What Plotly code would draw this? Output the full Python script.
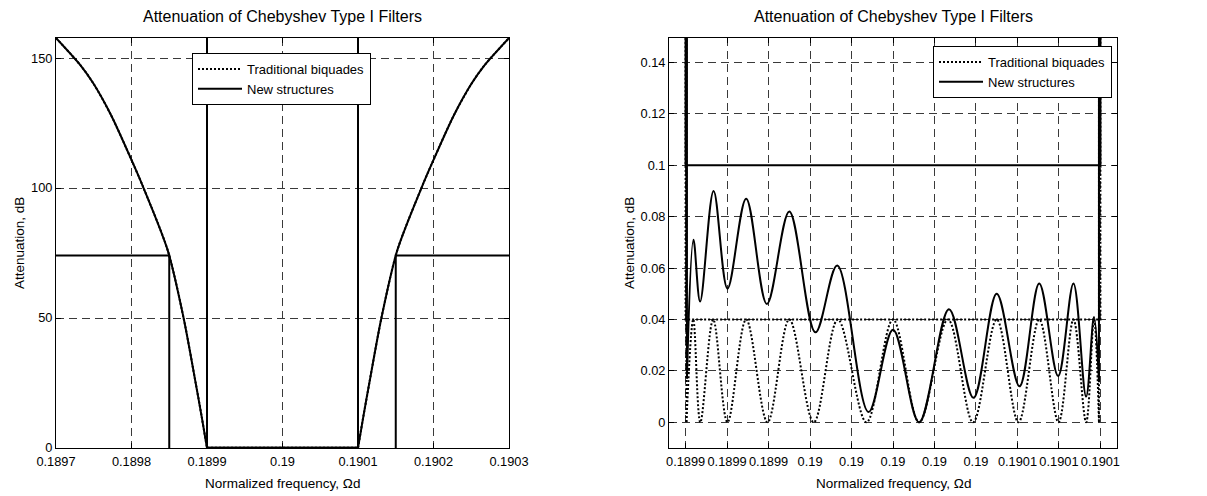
import plotly.graph_objects as go

# ---------------- data ----------------
# Left panel: attenuation over the whole band (dB)
# lower stopband branch (falling to the passband edge at 0.1899)
low_f = [0.18970, 0.189733, 0.189750, 0.189773, 0.18980, 0.189816, 0.189848,
         0.189869, 0.189885, 0.189893, 0.18990]
low_a = [157.7, 147.0, 140.0, 128.0, 110.8, 100.0, 76.0,
         50.0, 25.0, 12.0, 0.0]
# passband (ripple far too small to see at this scale)
pass_f = [0.18990, 0.19010]
pass_a = [0.05, 0.05]
# upper stopband branch
up_f = [0.19010, 0.190107, 0.190115, 0.190131, 0.190152, 0.190184,
        0.19020, 0.190227, 0.190250, 0.190267, 0.19030]
up_a = [0.0, 12.0, 25.0, 50.0, 76.0, 100.0,
        110.8, 128.0, 140.0, 147.0, 157.7]

# Left panel: specification (tolerance scheme) lines
spec_full_f = [0.1897, 0.18985, 0.18985, None, 0.1899, 0.1899, 0.1901, 0.1901, None, 0.19015, 0.19015, 0.1903]
spec_full_a = [74, 74, 0, None, 160, 0.1, 0.1, 160, None, 0, 74, 74]

# Right panel: passband detail, "New structures" (solid)
new_edge_f = [0.18990, 0.18990065, None, 0.1900993, 0.19010]
new_edge_a = [160, 0.017, None, 0.016, 160]
new_f = [0.18990065, 0.1899038, 0.1899070, 0.1899135, 0.1899202, 0.1899292, 0.1899392,
         0.1899500, 0.1899626, 0.1899731, 0.1899882, 0.1900000, 0.1900126, 0.1900270,
         0.1900388, 0.1900500, 0.1900610, 0.1900705, 0.1900796, 0.1900870, 0.1900931,
         0.1900969, 0.1900993]
new_a = [0.017, 0.071, 0.047, 0.090, 0.052, 0.087, 0.046,
         0.082, 0.035, 0.061, 0.004, 0.036, 0.000, 0.044,
         0.0095, 0.050, 0.014, 0.054, 0.018, 0.054, 0.010,
         0.041, 0.016]

# Right panel: "Traditional biquades" (dotted)
trad_edge_f = [0.18990, 0.1899004, None, 0.1900993, 0.19010]
trad_edge_a = [160, 0.0, None, 0.0, 160]
trad_f = [0.1899004, 0.1899037, 0.1899071, 0.1899133, 0.1899202, 0.1899292, 0.1899395,
          0.1899500, 0.1899618, 0.1899734, 0.1899872, 0.1900000, 0.1900126, 0.1900265,
          0.1900386, 0.1900500, 0.1900605, 0.1900705, 0.1900798, 0.1900870, 0.1900931,
          0.1900969, 0.1900993]
trad_a = [0.0, 0.04, 0.0, 0.04, 0.0, 0.04, 0.0,
          0.04, 0.0, 0.04, 0.0, 0.04, 0.0, 0.04,
          0.0, 0.04, 0.0, 0.04, 0.0, 0.04, 0.0,
          0.04, 0.0]

# Right panel spec lines
spec_new_f = [0.1899, 0.1899, 0.1901, 0.1901]
spec_new_a = [160, 0.1, 0.1, 160]
spec_trad_f = [0.1899, 0.1899, 0.1901, 0.1901]
spec_trad_a = [160, 0.04, 0.04, 160]

# Tick values / labels
left_xticks = [0.1897, 0.1898, 0.1899, 0.1900, 0.1901, 0.1902, 0.1903]
left_xlabels = ["0.1897", "0.1898", "0.1899", "0.19", "0.1901", "0.1902", "0.1903"]
left_yticks = [0, 50, 100, 150]
right_xticks = [0.1899, 0.18992, 0.18994, 0.18996, 0.18998, 0.1900,
                0.19002, 0.19004, 0.19006, 0.19008, 0.1901]
right_xlabels = ["0.1899", "0.1899", "0.1899", "0.19", "0.19", "0.19",
                 "0.19", "0.19", "0.1901", "0.1901", "0.1901"]
right_yticks = [0, 0.02, 0.04, 0.06, 0.08, 0.10, 0.12, 0.14]
right_ylabels = ["0", "0.02", "0.04", "0.06", "0.08", "0.1", "0.12", "0.14"]

TITLE = "Attenuation of Chebyshev Type I Filters"
XLABEL = "Normalized frequency, \u03a9d"
YLABEL = "Attenuation, dB"
LEG_TRAD = "Traditional biquades"
LEG_NEW = "New structures"

# ---------------- figure ----------------
FONT = "Liberation Sans, Arial, Helvetica, sans-serif"
PAGE_W, PAGE_H = 1207, 496
OFF = 8                      # default body margin of the html page
W, H = PAGE_W - OFF, PAGE_H - OFF
SOLID = dict(color="black", width=2)
DOTTED = dict(color="black", width=2, dash="2px,2px")

fig = go.Figure()

# ---- left panel ----
for i, (fx, ay) in enumerate([(low_f, low_a), (pass_f, pass_a), (up_f, up_a)]):
    fig.add_trace(go.Scatter(x=fx, y=ay, mode="lines", line=dict(DOTTED, shape="spline", smoothing=0.8),
                             name=LEG_TRAD, legend="legend", showlegend=(i == 0),
                             xaxis="x", yaxis="y"))
for i, (fx, ay) in enumerate([(low_f, low_a), (pass_f, pass_a), (up_f, up_a)]):
    fig.add_trace(go.Scatter(x=fx, y=ay, mode="lines", line=dict(SOLID, shape="spline", smoothing=0.8),
                             name=LEG_NEW, legend="legend", showlegend=(i == 0),
                             xaxis="x", yaxis="y"))
fig.add_trace(go.Scatter(x=spec_full_f, y=spec_full_a, mode="lines", line=SOLID,
                         showlegend=False, xaxis="x", yaxis="y"))

# ---- right panel ----
fig.add_trace(go.Scatter(x=trad_f, y=trad_a, mode="lines", line=dict(DOTTED, shape="spline"),
                         name=LEG_TRAD, legend="legend2", xaxis="x2", yaxis="y2"))
fig.add_trace(go.Scatter(x=new_f, y=new_a, mode="lines", line=dict(SOLID, shape="spline"),
                         name=LEG_NEW, legend="legend2", xaxis="x2", yaxis="y2"))
fig.add_trace(go.Scatter(x=trad_edge_f, y=trad_edge_a, mode="lines", line=DOTTED,
                         showlegend=False, xaxis="x2", yaxis="y2"))
fig.add_trace(go.Scatter(x=spec_trad_f, y=spec_trad_a, mode="lines", line=DOTTED,
                         showlegend=False, xaxis="x2", yaxis="y2"))
fig.add_trace(go.Scatter(x=new_edge_f, y=new_edge_a, mode="lines", line=SOLID,
                         showlegend=False, xaxis="x2", yaxis="y2"))
fig.add_trace(go.Scatter(x=spec_new_f, y=spec_new_a, mode="lines", line=SOLID,
                         showlegend=False, xaxis="x2", yaxis="y2"))

def px_x(p):
    return (p - OFF) / W

def px_y(p):
    return 1 - (p - OFF) / H

TICK_SIZE = 12.8
axis_common = dict(showline=True, linecolor="black", linewidth=1, mirror="ticks",
                   ticks="inside", ticklen=5, tickcolor="black", tickwidth=1,
                   showgrid=True, gridcolor="#3a3a3a", gridwidth=1, griddash="8px,5px",
                   zeroline=False, automargin=False,
                   tickfont=dict(family=FONT, size=TICK_SIZE, color="black"),
                   tickmode="array")

LX0, LX1 = 56, 509
RX0, RX1 = 669, 1117
Y0, Y1 = 38, 448

legend_common = dict(xanchor="left", yanchor="top", bgcolor="white",
                     bordercolor="black", borderwidth=1, itemwidth=44,
                     font=dict(family=FONT, size=13, color="black"))

fig.update_layout(
    width=W, height=H,
    margin=dict(l=0, r=0, t=0, b=0, autoexpand=False),
    paper_bgcolor="white", plot_bgcolor="white",
    font=dict(family=FONT, size=12, color="black"),
    xaxis=dict(axis_common, domain=[px_x(LX0), px_x(LX1)], range=[0.1897, 0.1903],
               tickvals=left_xticks, ticktext=left_xlabels, anchor="y", ticklabelstandoff=2),
    yaxis=dict(axis_common, domain=[px_y(Y1), px_y(Y0)], range=[0, 157.7],
               tickvals=left_yticks, ticktext=[str(v) for v in left_yticks], anchor="x"),
    xaxis2=dict(axis_common, domain=[px_x(RX0), px_x(RX1)], range=[0.189892, 0.190108],
                tickvals=right_xticks, ticktext=right_xlabels, anchor="y2", ticklabelstandoff=2),
    yaxis2=dict(axis_common, domain=[px_y(Y1), px_y(Y0)], range=[-0.01, 0.1495],
                tickvals=right_yticks, ticktext=right_ylabels, anchor="x2"),
    legend=dict(legend_common, x=px_x(192), y=px_y(53)),
    legend2=dict(legend_common, x=px_x(933), y=px_y(46)),
    showlegend=True,
)

annotations = []
for x0, x1 in [(LX0, LX1), (RX0, RX1)]:
    cx = px_x((x0 + x1) / 2)
    annotations.append(dict(text=TITLE, x=cx, y=px_y(16), xref="paper", yref="paper",
                            showarrow=False, xanchor="center", yanchor="middle",
                            font=dict(family=FONT, size=16, color="black")))
    annotations.append(dict(text=XLABEL, x=cx, y=px_y(483), xref="paper", yref="paper",
                            showarrow=False, xanchor="center", yanchor="middle",
                            font=dict(family=FONT, size=13.5, color="black")))
annotations.append(dict(text=YLABEL, x=px_x(19), y=px_y((Y0 + Y1) / 2), xref="paper", yref="paper",
                        showarrow=False, textangle=-90, xanchor="center", yanchor="middle",
                        font=dict(family=FONT, size=13.5, color="black")))
annotations.append(dict(text=YLABEL, x=px_x(629), y=px_y((Y0 + Y1) / 2), xref="paper", yref="paper",
                        showarrow=False, textangle=-90, xanchor="center", yanchor="middle",
                        font=dict(family=FONT, size=13.5, color="black")))
fig.update_layout(annotations=annotations)

fig.write_html("out.html")
